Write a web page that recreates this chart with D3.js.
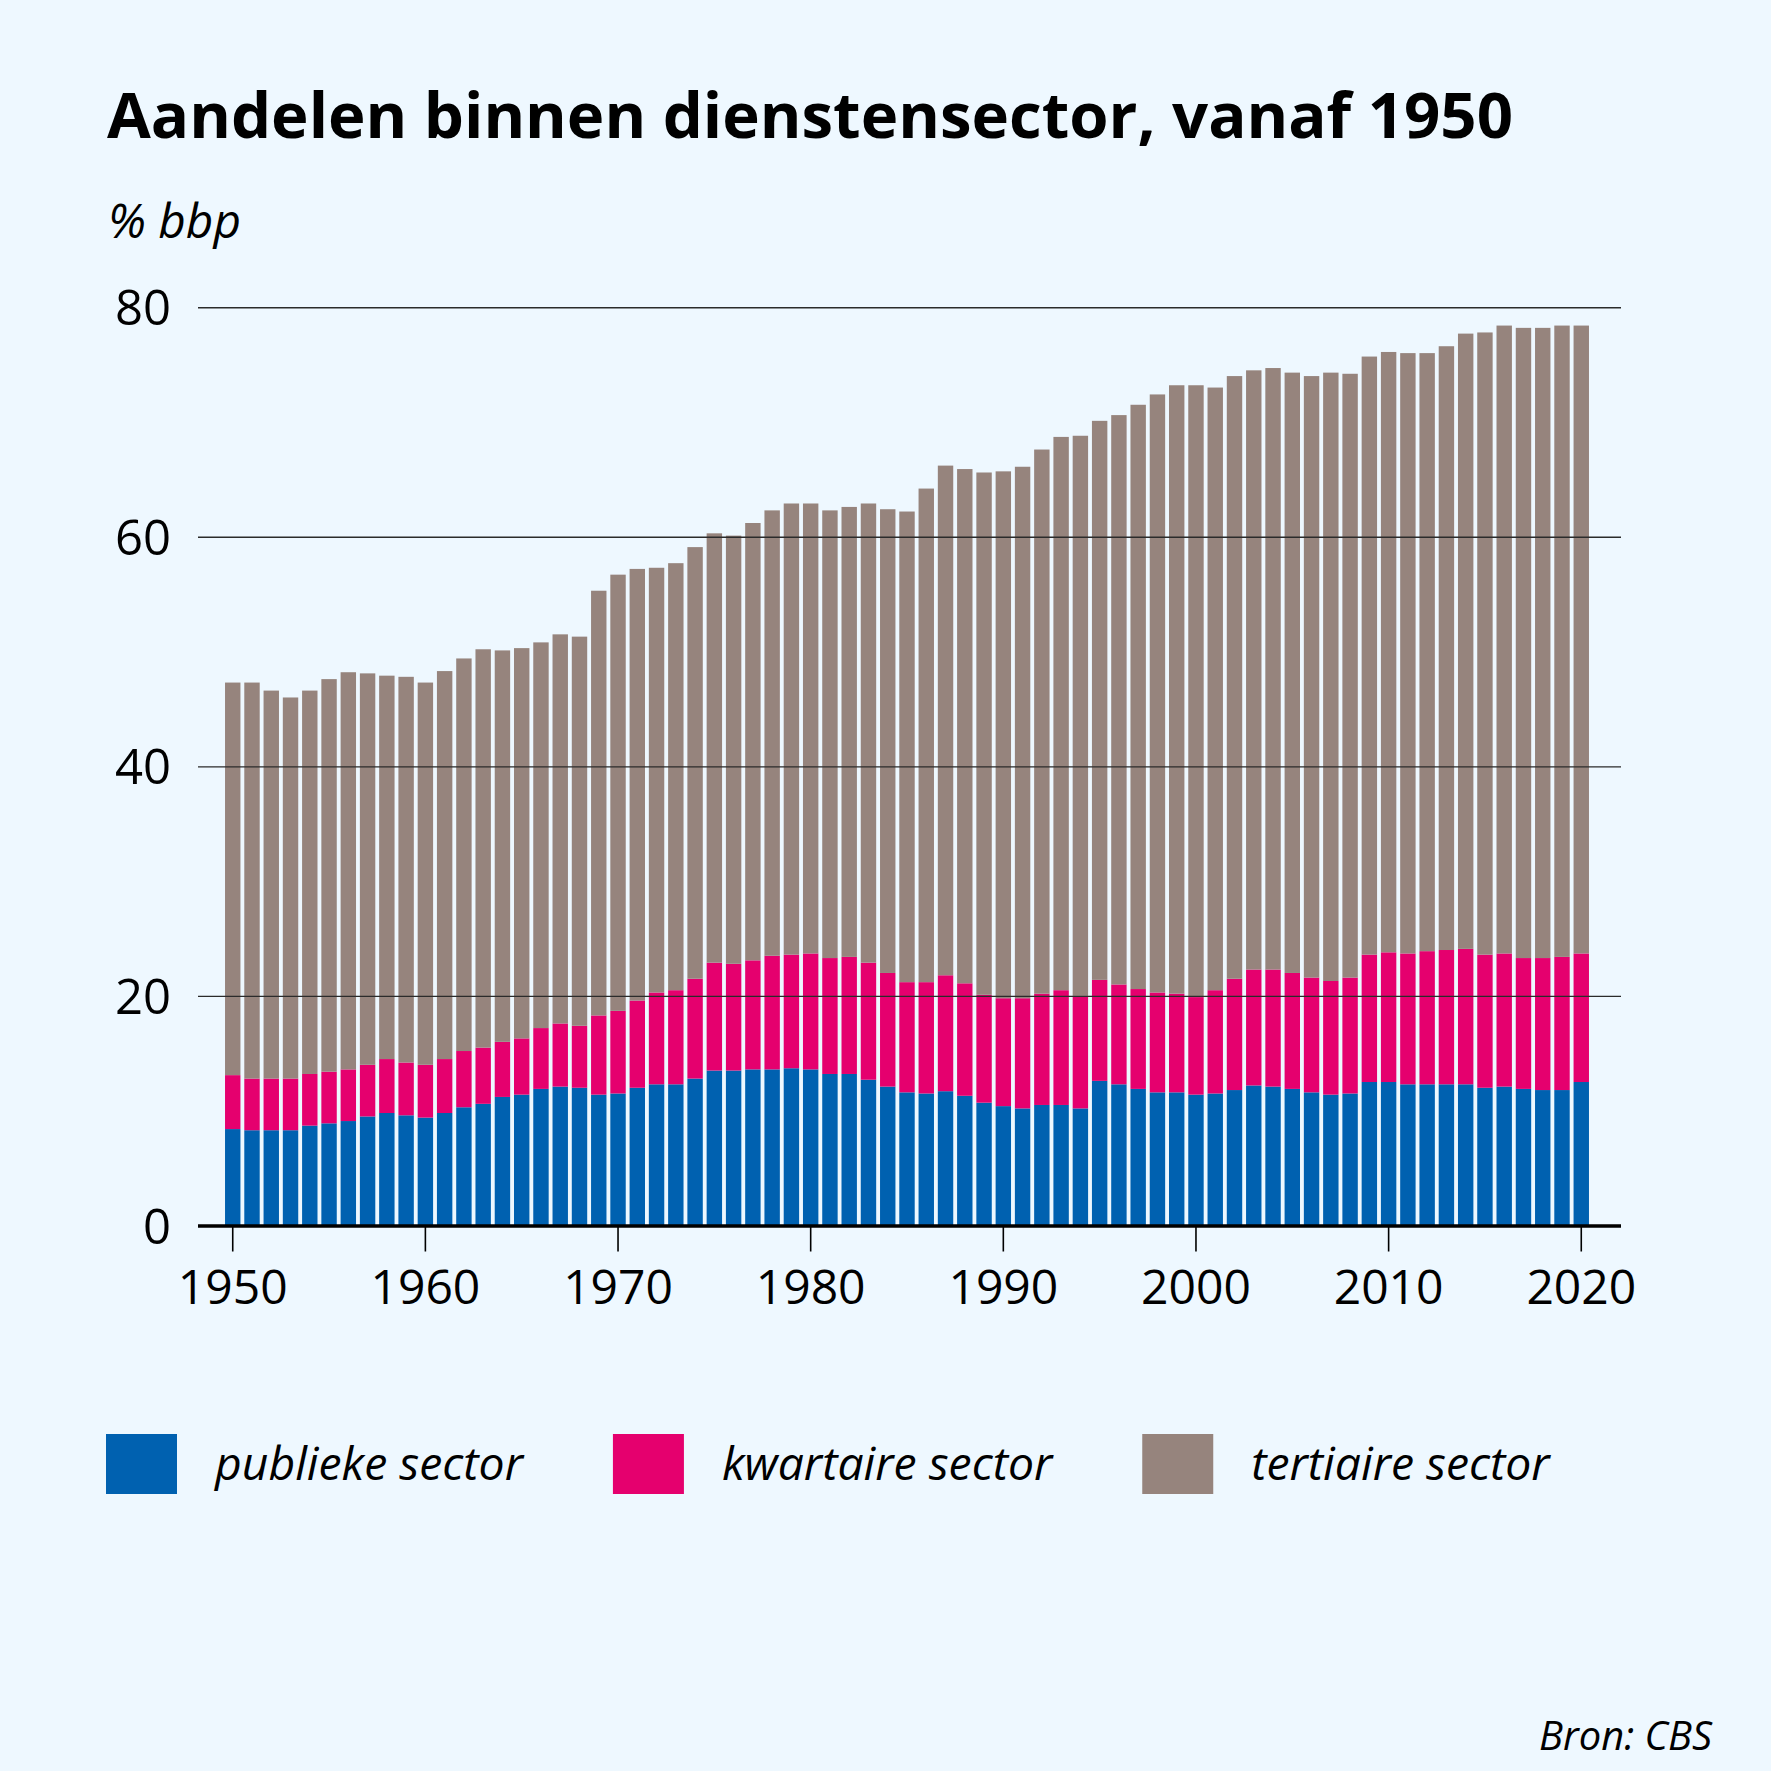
<!DOCTYPE html>
<html>
<head>
<meta charset="utf-8">
<script src="https://cdn.jsdelivr.net/npm/d3@7"></script>
<style>
  html, body { margin: 0; padding: 0; background: #eef8ff; }
  svg { display: block; }
</style>
</head>
<body>
<div id="chart"></div>
<script>
// Data (% bbp)
const years = d3.range(1950, 2021);
const publiek = [8.4, 8.3, 8.3, 8.3, 8.7, 8.9, 9.1, 9.5, 9.8, 9.6,
  9.4, 9.8, 10.3, 10.6, 11.2, 11.4, 11.9, 12.1, 12.0, 11.4,
  11.5, 12.0, 12.3, 12.3, 12.8, 13.5, 13.5, 13.6, 13.6, 13.7,
  13.6, 13.2, 13.2, 12.7, 12.1, 11.6, 11.5, 11.7, 11.3, 10.7,
  10.4, 10.2, 10.5, 10.5, 10.2, 12.6, 12.3, 11.9, 11.6, 11.6,
  11.4, 11.5, 11.8, 12.2, 12.1, 11.9, 11.6, 11.4, 11.5, 12.5,
  12.5, 12.3, 12.3, 12.3, 12.3, 12.0, 12.1, 11.9, 11.8, 11.8,
  12.5];
const kwartair = [4.7, 4.5, 4.5, 4.5, 4.5, 4.5, 4.5, 4.5, 4.7, 4.6,
  4.6, 4.7, 4.9, 4.9, 4.8, 4.9, 5.3, 5.5, 5.4, 6.9,
  7.2, 7.6, 8.0, 8.2, 8.7, 9.4, 9.3, 9.5, 9.9, 9.9,
  10.1, 10.1, 10.2, 10.2, 9.9, 9.6, 9.7, 10.1, 9.8, 9.4,
  9.4, 9.6, 9.7, 10.0, 9.8, 8.8, 8.7, 8.7, 8.7, 8.6,
  8.5, 9.0, 9.7, 10.1, 10.2, 10.1, 10.0, 9.9, 10.1, 11.1,
  11.3, 11.4, 11.6, 11.7, 11.8, 11.6, 11.6, 11.4, 11.5, 11.6,
  11.2];
const tertiair = [34.2, 34.5, 33.8, 33.2, 33.4, 34.2, 34.6, 34.1, 33.4, 33.6,
  33.3, 33.8, 34.2, 34.7, 34.1, 34.0, 33.6, 33.9, 33.9, 37.0,
  38.0, 37.6, 37.0, 37.2, 37.6, 37.4, 37.3, 38.1, 38.8, 39.3,
  39.2, 39.0, 39.2, 40.0, 40.4, 41.0, 43.0, 44.4, 44.8, 45.5,
  45.9, 46.3, 47.4, 48.2, 48.8, 48.7, 49.6, 50.9, 52.1, 53.0,
  53.3, 52.5, 52.5, 52.2, 52.4, 52.3, 52.4, 53.0, 52.6, 52.1,
  52.3, 52.3, 52.1, 52.6, 53.6, 54.2, 54.7, 54.9, 54.9, 55.0,
  54.7];
const seriesKeys = ["publiek", "kwartair", "tertiair"];
const seriesLabels = ["publieke sector", "kwartaire sector", "tertiaire sector"];
const seriesColors = ["#0061b0", "#e5006e", "#96847d"];
const yTicks = [0, 20, 40, 60, 80];
const xTickYears = [1950, 1960, 1970, 1980, 1990, 2000, 2010, 2020];

const W = 1771, H = 1771;
const bg = "#eef8ff";
const sans = "'Open Sans', 'Noto Sans', sans-serif";

// Build rows for stacking
const rows = years.map((yr, i) => ({
  year: yr, publiek: publiek[i], kwartair: kwartair[i], tertiair: tertiair[i]
}));
const stacked = d3.stack().keys(seriesKeys)(rows);

const svg = d3.select("#chart").append("svg")
  .attr("width", W).attr("height", H)
  .style("background", bg);

svg.append("rect").attr("width", W).attr("height", H).attr("fill", bg);

// shrink/grow font so a text ends up a given width
function fitWidth(sel, target) {
  const node = sel.node();
  const fs = parseFloat(sel.attr("font-size"));
  const w = node.getComputedTextLength();
  sel.attr("font-size", (fs * target / w).toFixed(2));
}

// Title
svg.append("text")
  .attr("x", 107).attr("y", 138)
  .attr("font-family", sans).attr("font-weight", 700)
  .attr("font-size", 64).attr("fill", "#000")
  .text("Aandelen binnen dienstensector, vanaf 1950")
  .call(fitWidth, 1406);

// Unit label
svg.append("text")
  .attr("x", 108).attr("y", 238)
  .attr("font-family", sans).attr("font-style", "italic")
  .attr("font-size", 46).attr("fill", "#000")
  .text("% bbp")
  .call(fitWidth, 133);

// Scales
const gridLeft = 198, gridRight = 1621;
const x = d3.scaleBand()
  .domain(years)
  .range([223.1, 1590.9])
  .paddingInner(0.2)
  .paddingOuter(0.1);
const y = d3.scaleLinear().domain([0, 80]).range([1225.5, 307.2]);
const color = d3.scaleOrdinal().domain(seriesKeys).range(seriesColors);

// Bars
svg.append("g").selectAll("g")
  .data(stacked)
  .join("g")
  .attr("fill", d => color(d.key))
  .selectAll("rect")
  .data(d => d)
  .join("rect")
  .attr("x", d => x(d.data.year))
  .attr("width", x.bandwidth())
  .attr("y", d => y(d[1]))
  .attr("height", d => y(d[0]) - y(d[1]));

// Y axis with gridlines over the bars
const yAxis = svg.append("g")
  .attr("transform", `translate(${gridLeft},0)`)
  .call(d3.axisLeft(y).tickValues(yTicks).tickSize(-(gridRight - gridLeft)).tickPadding(27))
  .call(g => g.select(".domain").remove());
yAxis.selectAll(".tick line")
  .attr("stroke-width", d => d === 0 ? 3.4 : 1.4)
  .attr("stroke", d => d === 0 ? "#000" : "#2b2b2b");
yAxis.selectAll(".tick text")
  .attr("font-family", sans).attr("font-size", 49).attr("fill", "#000")
  .attr("dy", "0.36em");

// X axis
const xAxis = svg.append("g")
  .attr("transform", `translate(0,${y(0)})`)
  .call(d3.axisBottom(x).tickValues(xTickYears).tickSize(26).tickPadding(18))
  .call(g => g.select(".domain").remove());
xAxis.selectAll(".tick line").attr("stroke", "#000").attr("stroke-width", 1.6);
xAxis.selectAll(".tick text")
  .attr("font-family", sans).attr("font-size", 48).attr("fill", "#000");

// Legend
const legend = svg.append("g");
let lx = 106;
seriesKeys.forEach((k, i) => {
  legend.append("rect")
    .attr("x", lx).attr("y", 1434)
    .attr("width", 71).attr("height", 60)
    .attr("fill", color(k));
  const t = legend.append("text")
    .attr("x", lx + 109).attr("y", 1480)
    .attr("font-family", sans).attr("font-style", "italic")
    .attr("font-size", 46.3).attr("fill", "#000")
    .text(seriesLabels[i]);
  lx += 109 + t.node().getComputedTextLength() + 90;
});

// Source
svg.append("text")
  .attr("x", 1712).attr("y", 1750)
  .attr("text-anchor", "end")
  .attr("font-family", sans).attr("font-style", "italic")
  .attr("font-size", 40).attr("fill", "#000")
  .text("Bron: CBS")
  .call(fitWidth, 173);
</script>
</body>
</html>
